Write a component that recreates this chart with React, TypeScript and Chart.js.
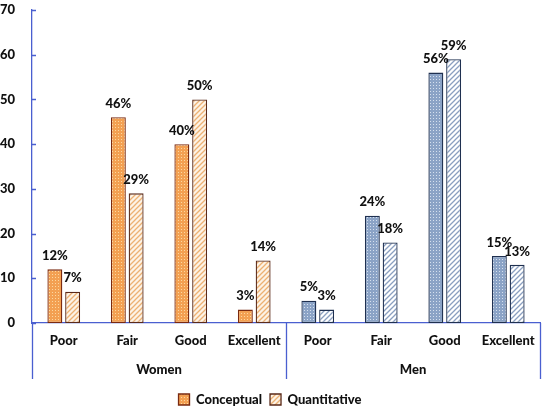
import React, { useEffect, useRef } from "react";
import { Chart, registerables } from "chart.js";

Chart.register(...registerables);

const ratings = ["Poor", "Fair", "Good", "Excellent", "Poor", "Fair", "Good", "Excellent"];
const groups = ["Women", "Men"];
const conceptual = [12, 46, 40, 3, 5, 24, 56, 15];
const quantitative = [7, 29, 50, 14, 3, 18, 59, 13];

const FONT = "Lato, 'Open Sans', sans-serif";
const AXIS = "#4a5fd0";
const WEIGHT = "900";

function dots(bg: string, dot: string): CanvasPattern | string {
  const c = document.createElement("canvas");
  c.width = 3;
  c.height = 3;
  const g = c.getContext("2d");
  if (!g) return bg;
  g.fillStyle = bg;
  g.fillRect(0, 0, 3, 3);
  g.fillStyle = dot;
  g.fillRect(1, 1, 1, 1);
  return g.createPattern(c, "repeat") || bg;
}

function hatch(bg: string, line: string): CanvasPattern | string {
  const c = document.createElement("canvas");
  c.width = 5;
  c.height = 5;
  const g = c.getContext("2d");
  if (!g) return bg;
  g.fillStyle = bg;
  g.fillRect(0, 0, 5, 5);
  g.strokeStyle = line;
  g.lineWidth = 1.3;
  g.beginPath();
  g.moveTo(0, 5);
  g.lineTo(5, 0);
  g.moveTo(-1, 1);
  g.lineTo(1, -1);
  g.moveTo(4, 6);
  g.lineTo(6, 4);
  g.stroke();
  return g.createPattern(c, "repeat") || bg;
}

const App: React.FC = () => {
  const chartRef = useRef<HTMLCanvasElement>(null);
  const chartInstance = useRef<Chart | null>(null);

  useEffect(() => {
    if (!chartRef.current) return;
    const ctx = chartRef.current.getContext("2d");
    if (!ctx) return;
    if (chartInstance.current) chartInstance.current.destroy();

    const womenDots = dots("#f3a052", "#fbd7a0");
    const menDots = dots("#8ba3c6", "#d6e0ee");
    const womenHatch = hatch("#fdf3e6", "#ecb173");
    const menHatch = hatch("#ffffff", "#8a9fc0");
    const isWomen = (c: any) => c.dataIndex !== undefined && c.dataIndex < 4;

    const labelPlugin = {
      id: "barLabels",
      afterDatasetsDraw(chart: Chart) {
        const g = chart.ctx;
        g.save();
        g.font = `${WEIGHT} 13px ${FONT}`;
        g.fillStyle = "#111";
        g.textAlign = "center";
        g.textBaseline = "bottom";
        chart.data.datasets.forEach((ds, i) => {
          const meta = chart.getDatasetMeta(i);
          meta.data.forEach((bar: any, j: number) => {
            g.fillText(`${ds.data[j]}%`, bar.x, bar.y - 7);
          });
        });
        g.restore();
      },
      afterDraw(chart: Chart) {
        const g = chart.ctx;
        const a = chart.chartArea;
        const y = chart.scales.y;
        const step = (a.right - a.left) / ratings.length;
        g.save();
        g.strokeStyle = AXIS;
        g.lineWidth = 1.3;
        g.beginPath();
        [0, 4, 8].forEach((k) => {
          const px = Math.round(a.left + step * k) + 0.5;
          g.moveTo(px, a.bottom);
          g.lineTo(px, a.bottom + 56);
        });
        y.ticks.forEach((t: any) => {
          const py = Math.round(y.getPixelForValue(t.value)) + 0.5;
          g.moveTo(a.left, py);
          g.lineTo(a.left + 4, py);
        });
        g.stroke();
        g.restore();
      },
    };

    const tickFont = { family: FONT, size: 13, weight: WEIGHT };

    chartInstance.current = new Chart(ctx, {
      type: "bar",
      data: {
        labels: ratings,
        datasets: [
          {
            label: "Conceptual",
            data: conceptual,
            backgroundColor: (c: any) => (isWomen(c) ? womenDots : menDots),
            borderColor: (c: any) => (isWomen(c) ? "#7a2a10" : "#1f3050"),
            borderWidth: 1.3,
            borderSkipped: false,
          },
          {
            label: "Quantitative",
            data: quantitative,
            backgroundColor: (c: any) => (isWomen(c) ? womenHatch : menHatch),
            borderColor: (c: any) => (isWomen(c) ? "#5a2a1a" : "#1f3050"),
            borderWidth: 1.3,
            borderSkipped: false,
          },
        ],
      },
      options: {
        responsive: true,
        maintainAspectRatio: false,
        animation: false,
        layout: { padding: { top: 0, right: 10, left: 0, bottom: -7 } },
        datasets: { bar: { categoryPercentage: 0.56, barPercentage: 0.84 } },
        plugins: {
          tooltip: { enabled: false },
          legend: {
            position: "bottom",
            labels: {
              color: "#111",
              font: tickFont,
              boxWidth: 11,
              boxHeight: 11,
              padding: 8,
            },
          },
        },
        scales: {
          x: {
            grid: { display: false },
            border: { display: true, color: AXIS, width: 1.3 },
            ticks: { color: "#111", font: tickFont, padding: 2 },
            afterFit: (s: any) => {
              s.height = 30;
            },
          },
          x2: {
            type: "category",
            labels: groups,
            position: "bottom",
            offset: true,
            grid: { display: false },
            border: { display: false },
            ticks: { color: "#111", font: tickFont, padding: 1 },
            afterFit: (s: any) => {
              s.height = 32;
            },
          },
          y: {
            min: 0,
            max: 70,
            ticks: { stepSize: 10, color: "#111", font: tickFont, padding: 9 },
            grid: { display: false },
            border: { display: true, color: AXIS, width: 1.3 },
            afterFit: (s: any) => {
              s.width = 32;
              s.paddingTop = 10;
              s.paddingBottom = 8;
            },
          },
        },
      },
      plugins: [labelPlugin],
    } as any);

    return () => {
      if (chartInstance.current) {
        chartInstance.current.destroy();
        chartInstance.current = null;
      }
    };
  }, []);

  return (
    <div style={{ position: "fixed", left: 0, top: 0, width: 550, height: 409, background: "#fff" }}>
      <canvas ref={chartRef} />
    </div>
  );
};

export default App;
